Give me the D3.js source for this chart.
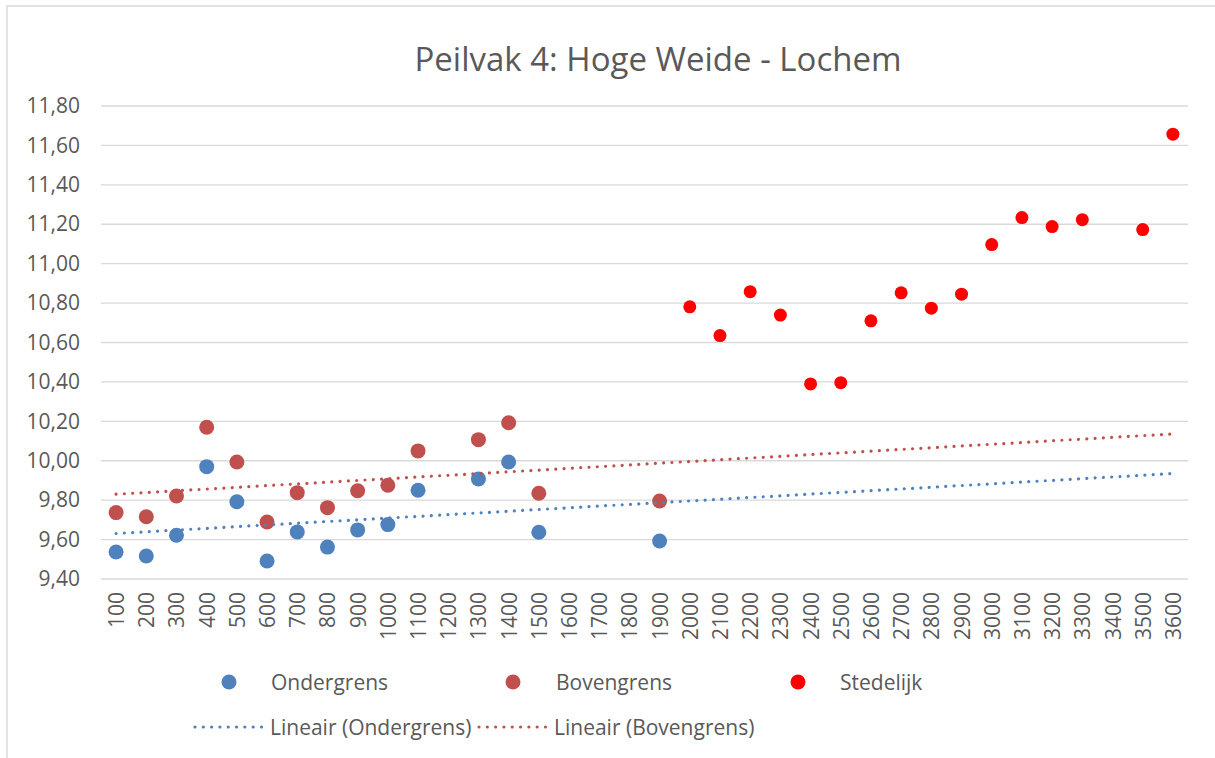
<!DOCTYPE html>
<html>
<head>
<meta charset="utf-8">
<script src="https://cdn.jsdelivr.net/npm/d3@7"></script>
<style>
  body { margin: 0; background: #fff; }
  text { font-family: "Open Sans", sans-serif; fill: #595959; }
</style>
</head>
<body>
<div id="chart"></div>
<script>
// data
const categories = ["100","200","300","400","500","600","700","800","900","1000","1100","1200",
  "1300","1400","1500","1600","1700","1800","1900","2000","2100","2200","2300","2400",
  "2500","2600","2700","2800","2900","3000","3100","3200","3300","3400","3500","3600"];

const ondergrens = [9.537, 9.517, 9.622, 9.970, 9.792, 9.491, 9.639, 9.562, 9.649, 9.676, 9.850, null,
  9.908, 9.994, 9.637, null, null, null, 9.593, null, null, null, null, null,
  null, null, null, null, null, null, null, null, null, null, null, null];

const bovengrens = [9.737, 9.716, 9.821, 10.170, 9.994, 9.689, 9.838, 9.762, 9.848, 9.876, 10.050, null,
  10.107, 10.193, 9.835, null, null, null, 9.796, null, null, null, null, null,
  null, null, null, null, null, null, null, null, null, null, null, null];

const stedelijk = [null, null, null, null, null, null, null, null, null, null, null, null,
  null, null, null, null, null, null, null, 10.781, 10.635, 10.858, 10.739, 10.390,
  10.396, 10.710, 10.852, 10.774, 10.845, 11.097, 11.234, 11.188, 11.223, null, 11.173, 11.657];

const yTicks = [9.4, 9.6, 9.8, 10.0, 10.2, 10.4, 10.6, 10.8, 11.0, 11.2, 11.4, 11.6, 11.8];

const W = 1215, H = 758;
const plot = {left: 101, right: 1188, top: 106, bottom: 579};

const svg = d3.select("#chart").append("svg")
  .attr("width", W)
  .attr("height", H);

// chart frame
svg.append("rect")
  .attr("x", 7).attr("y", 6)
  .attr("width", W + 20).attr("height", H + 20)
  .attr("fill", "#fff")
  .attr("stroke", "#d9d9d9")
  .attr("stroke-width", 1.5);

const x = d3.scaleBand().domain(categories).range([plot.left, plot.right]).padding(0);
const cx = c => x(c) + x.bandwidth() / 2;
const y = d3.scaleLinear().domain([9.4, 11.8]).range([plot.bottom, plot.top]);

const fmt = v => d3.format(".2f")(v).replace(".", ",");

// title
svg.append("text")
  .attr("x", 658).attr("y", 71)
  .attr("text-anchor", "middle")
  .attr("font-size", 33)
  .text("Peilvak 4: Hoge Weide - Lochem");

// gridlines
svg.append("g").selectAll("line")
  .data(yTicks).join("line")
  .attr("x1", plot.left).attr("x2", plot.right)
  .attr("y1", d => y(d)).attr("y2", d => y(d))
  .attr("stroke", "#d9d9d9")
  .attr("stroke-width", 1.3);

// y axis labels
const yAxis = svg.append("g")
  .attr("transform", `translate(${plot.left},0)`)
  .call(d3.axisLeft(y).tickValues(yTicks).tickFormat(fmt).tickSize(0).tickPadding(21));
yAxis.select(".domain").remove();
yAxis.selectAll("text")
  .attr("font-size", 21)
  .attr("font-family", '"Open Sans", sans-serif')
  .attr("fill", "#595959");

// x axis labels (rotated)
const xAxis = svg.append("g")
  .attr("transform", `translate(0,${plot.bottom})`)
  .call(d3.axisBottom(x).tickSize(0));
xAxis.select(".domain").remove();
xAxis.selectAll("text")
  .attr("font-size", 21)
  .attr("font-family", '"Open Sans", sans-serif')
  .attr("fill", "#595959")
  .attr("text-anchor", "end")
  .attr("dy", null)
  .attr("y", 0)
  .attr("dominant-baseline", "central")
  .attr("transform", "translate(0,13) rotate(-90)");

// points
function drawPoints(values, color, r) {
  svg.append("g").selectAll("circle")
    .data(categories.map((c, i) => ({c, v: values[i]})).filter(d => d.v != null))
    .join("circle")
    .attr("cx", d => cx(d.c))
    .attr("cy", d => y(d.v))
    .attr("r", r)
    .attr("fill", color);
}
drawPoints(ondergrens, "#4f81bd", 7.5);
drawPoints(bovengrens, "#c0504d", 7.5);
drawPoints(stedelijk, "#ff0000", 6.5);

// linear trend lines over category index, as in Excel
function trend(values) {
  const pts = values.map((v, i) => [i + 1, v]).filter(p => p[1] != null);
  const mx = d3.mean(pts, p => p[0]), my = d3.mean(pts, p => p[1]);
  const b = d3.sum(pts, p => (p[0] - mx) * (p[1] - my)) / d3.sum(pts, p => (p[0] - mx) ** 2);
  return i => my + b * (i - mx);
}
function drawTrend(values, color) {
  const f = trend(values);
  const first = categories[0], last = categories[categories.length - 1];
  svg.append("line")
    .attr("x1", cx(first)).attr("y1", y(f(1)))
    .attr("x2", cx(last)).attr("y2", y(f(categories.length)))
    .attr("stroke", color)
    .attr("stroke-width", 3.2)
    .attr("stroke-linecap", "round")
    .attr("stroke-dasharray", "0.01 8.3");
}
drawTrend(ondergrens, "#4f81bd");
drawTrend(bovengrens, "#c0504d");

// legend
const legend = svg.append("g");
const markerItems = [
  {label: "Ondergrens", color: "#4f81bd", mx: 229, tx: 271},
  {label: "Bovengrens", color: "#c0504d", mx: 513, tx: 556},
  {label: "Stedelijk", color: "#ff0000", mx: 798, tx: 840}
];
markerItems.forEach(d => {
  legend.append("circle").attr("cx", d.mx).attr("cy", 682).attr("r", 7.5).attr("fill", d.color);
  legend.append("text").attr("x", d.tx).attr("y", 682)
    .attr("dominant-baseline", "central")
    .attr("font-size", 21).text(d.label);
});
const lineItems = [
  {label: "Lineair (Ondergrens)", color: "#4f81bd", x1: 195, x2: 264, tx: 270},
  {label: "Lineair (Bovengrens)", color: "#c0504d", x1: 479, x2: 548, tx: 554}
];
lineItems.forEach(d => {
  legend.append("line").attr("x1", d.x1).attr("x2", d.x2).attr("y1", 727).attr("y2", 727)
    .attr("stroke", d.color).attr("stroke-width", 3.2)
    .attr("stroke-linecap", "round").attr("stroke-dasharray", "0.01 8.3");
  legend.append("text").attr("x", d.tx).attr("y", 727)
    .attr("dominant-baseline", "central")
    .attr("font-size", 21).text(d.label);
});
</script>
</body>
</html>
